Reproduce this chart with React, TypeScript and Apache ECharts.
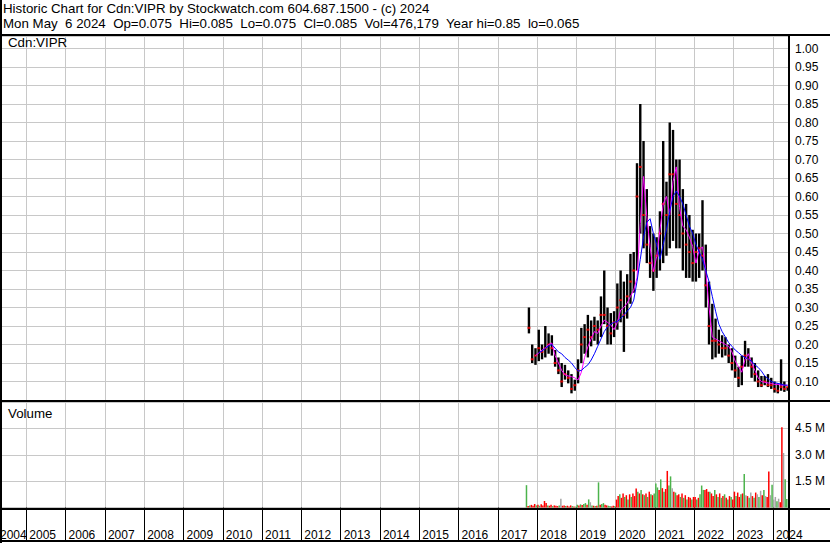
import React, { useEffect, useRef } from 'react';
import * as echarts from 'echarts';

// ---------- DATA ----------
const headerLine1 = 'Historic Chart for Cdn:VIPR by Stockwatch.com 604.687.1500 - (c) 2024';
const headerLine2 = 'Mon May  6 2024  Op=0.075  Hi=0.085  Lo=0.075  Cl=0.085  Vol=476,179  Year hi=0.85  lo=0.065';
const symbolLabel = 'Cdn:VIPR';
const volumeLabel = 'Volume';

const priceMonths = [
  '2017-10', '2017-11', '2017-12',
  '2018-01', '2018-02', '2018-03', '2018-04', '2018-05', '2018-06', '2018-07', '2018-08', '2018-09', '2018-10', '2018-11', '2018-12',
  '2019-01', '2019-02', '2019-03', '2019-04', '2019-05', '2019-06', '2019-07', '2019-08', '2019-09', '2019-10', '2019-11', '2019-12',
  '2020-01', '2020-02', '2020-03', '2020-04', '2020-05', '2020-06', '2020-07', '2020-08', '2020-09', '2020-10', '2020-11', '2020-12',
  '2021-01', '2021-02', '2021-03', '2021-04', '2021-05', '2021-06', '2021-07', '2021-08', '2021-09', '2021-10', '2021-11', '2021-12',
  '2022-01', '2022-02', '2022-03', '2022-04', '2022-05', '2022-06', '2022-07', '2022-08', '2022-09', '2022-10', '2022-11', '2022-12',
  '2023-01', '2023-02', '2023-03', '2023-04', '2023-05', '2023-06', '2023-07', '2023-08', '2023-09', '2023-10', '2023-11', '2023-12',
  '2024-01', '2024-02', '2024-03', '2024-04', '2024-05',
];
const priceHigh = [
  0.30, 0.20, 0.19,
  0.24, 0.20, 0.25, 0.23, 0.225, 0.185, 0.165, 0.15, 0.145, 0.13, 0.12, 0.105,
  0.16, 0.245, 0.255, 0.28, 0.265, 0.275, 0.265, 0.33, 0.40, 0.30, 0.285, 0.29,
  0.365, 0.40, 0.37, 0.39, 0.445, 0.45, 0.69, 0.85, 0.75, 0.62, 0.52, 0.50,
  0.49, 0.56, 0.75, 0.64, 0.80, 0.78, 0.70, 0.70, 0.62, 0.58, 0.55, 0.51,
  0.50, 0.50, 0.59, 0.47, 0.37, 0.31, 0.27, 0.24, 0.225, 0.22, 0.20, 0.19,
  0.17, 0.14, 0.17, 0.21, 0.19, 0.165, 0.15, 0.13, 0.115, 0.115, 0.12, 0.11,
  0.10, 0.095, 0.16, 0.10, 0.085,
];
const priceLow = [
  0.23, 0.15, 0.145,
  0.155, 0.16, 0.165, 0.175, 0.17, 0.14, 0.12, 0.085, 0.105, 0.095, 0.068, 0.075,
  0.095, 0.15, 0.175, 0.165, 0.195, 0.21, 0.20, 0.22, 0.255, 0.20, 0.20, 0.22,
  0.24, 0.26, 0.18, 0.27, 0.31, 0.34, 0.40, 0.50, 0.46, 0.42, 0.38, 0.345,
  0.38, 0.40, 0.42, 0.44, 0.46, 0.48, 0.46, 0.46, 0.40, 0.38, 0.38, 0.37,
  0.37, 0.38, 0.40, 0.30, 0.20, 0.16, 0.165, 0.175, 0.165, 0.17, 0.15, 0.13,
  0.11, 0.085, 0.09, 0.14, 0.14, 0.11, 0.10, 0.085, 0.085, 0.09, 0.085, 0.08,
  0.07, 0.068, 0.075, 0.072, 0.075,
];
const priceClose = [
  0.245, 0.16, 0.17,
  0.19, 0.18, 0.19, 0.20, 0.19, 0.15, 0.13, 0.10, 0.12, 0.11, 0.08, 0.09,
  0.13, 0.20, 0.22, 0.24, 0.22, 0.25, 0.24, 0.28, 0.28, 0.25, 0.23, 0.26,
  0.30, 0.32, 0.28, 0.33, 0.37, 0.40, 0.60, 0.68, 0.55, 0.47, 0.42, 0.40,
  0.44, 0.50, 0.58, 0.55, 0.66, 0.66, 0.58, 0.55, 0.50, 0.47, 0.45, 0.42,
  0.45, 0.46, 0.44, 0.36, 0.25, 0.21, 0.21, 0.20, 0.19, 0.19, 0.17, 0.15,
  0.13, 0.11, 0.14, 0.17, 0.16, 0.14, 0.12, 0.10, 0.09, 0.10, 0.09, 0.09,
  0.08, 0.075, 0.085, 0.08, 0.085,
];
// short moving average (magenta)
const maShort = [
  null, null, 0.17,
  0.177, 0.185, 0.19, 0.20, 0.204, 0.17, 0.15, 0.13, 0.118, 0.115, 0.113, 0.11,
  0.104, 0.125, 0.165, 0.194, 0.215, 0.235, 0.23, 0.25, 0.266, 0.26, 0.253, 0.24,
  0.26, 0.293, 0.30, 0.312, 0.33, 0.347, 0.38, 0.527, 0.654, 0.545, 0.464, 0.397,
  0.437, 0.509, 0.58, 0.60, 0.55, 0.64, 0.68, 0.57, 0.52, 0.51, 0.49, 0.465,
  0.42, 0.455, 0.464, 0.40, 0.30, 0.22, 0.215, 0.21, 0.205, 0.20, 0.195, 0.18,
  0.155, 0.14, 0.125, 0.16, 0.175, 0.15, 0.13, 0.11, 0.10, 0.098, 0.096, 0.095,
  0.092, 0.092, 0.09, 0.09, 0.09,
];
// long moving average (blue)
const maLong = [
  null, null, null,
  0.178, 0.182, 0.19, 0.196, 0.20, 0.19, 0.18, 0.175, 0.165, 0.158, 0.15, 0.138,
  0.128, 0.13, 0.138, 0.145, 0.158, 0.175, 0.195, 0.215, 0.235, 0.248, 0.255, 0.26,
  0.262, 0.27, 0.28, 0.29, 0.30, 0.32, 0.37, 0.43, 0.49, 0.53, 0.54, 0.50,
  0.47, 0.43, 0.47, 0.51, 0.56, 0.60, 0.615, 0.60, 0.58, 0.55, 0.52, 0.50,
  0.47, 0.45, 0.43, 0.40, 0.37, 0.33, 0.29, 0.255, 0.235, 0.22, 0.205, 0.195,
  0.185, 0.178, 0.17, 0.165, 0.16, 0.155, 0.145, 0.138, 0.128, 0.115, 0.108, 0.10,
  0.097, 0.095, 0.093, 0.09, 0.09,
];

const volDates = [
  '2017-09-16', '2017-10-01', '2017-10-16', '2017-11-01', '2017-11-16', '2017-12-01', '2017-12-16',
  '2018-01-01', '2018-01-16', '2018-02-01', '2018-02-16', '2018-03-01', '2018-03-16', '2018-04-01', '2018-04-16',
  '2018-05-01', '2018-05-16', '2018-06-01', '2018-06-16', '2018-07-01', '2018-07-16', '2018-08-01', '2018-08-16',
  '2018-09-01', '2018-09-16', '2018-10-01', '2018-10-16', '2018-11-01', '2018-11-16', '2018-12-01', '2018-12-16',
  '2019-01-01', '2019-01-16', '2019-02-01', '2019-02-16', '2019-03-01', '2019-03-16', '2019-04-01', '2019-04-16',
  '2019-05-01', '2019-05-16', '2019-06-01', '2019-06-16', '2019-07-01', '2019-07-16', '2019-08-01', '2019-08-16',
  '2019-09-01', '2019-09-16', '2019-10-01', '2019-10-16', '2019-11-01', '2019-11-16', '2019-12-01', '2019-12-16',
  '2020-01-01', '2020-01-16', '2020-02-01', '2020-02-16', '2020-03-01', '2020-03-16', '2020-04-01', '2020-04-16',
  '2020-05-01', '2020-05-16', '2020-06-01', '2020-06-16', '2020-07-01', '2020-07-16', '2020-08-01', '2020-08-16',
  '2020-09-01', '2020-09-16', '2020-10-01', '2020-10-16', '2020-11-01', '2020-11-16', '2020-12-01', '2020-12-16',
  '2021-01-01', '2021-01-16', '2021-02-01', '2021-02-16', '2021-03-01', '2021-03-16', '2021-04-01', '2021-04-16',
  '2021-05-01', '2021-05-16', '2021-06-01', '2021-06-16', '2021-07-01', '2021-07-16', '2021-08-01', '2021-08-16',
  '2021-09-01', '2021-09-16', '2021-10-01', '2021-10-16', '2021-11-01', '2021-11-16', '2021-12-01', '2021-12-16',
  '2022-01-01', '2022-01-16', '2022-02-01', '2022-02-16', '2022-03-01', '2022-03-16', '2022-04-01', '2022-04-16',
  '2022-05-01', '2022-05-16', '2022-06-01', '2022-06-16', '2022-07-01', '2022-07-16', '2022-08-01', '2022-08-16',
  '2022-09-01', '2022-09-16', '2022-10-01', '2022-10-16', '2022-11-01', '2022-11-16', '2022-12-01', '2022-12-16',
  '2023-01-01', '2023-01-16', '2023-02-01', '2023-02-16', '2023-03-01', '2023-03-16', '2023-04-01', '2023-04-16',
  '2023-05-01', '2023-05-16', '2023-06-01', '2023-06-16', '2023-07-01', '2023-07-16', '2023-08-01', '2023-08-16',
  '2023-09-01', '2023-09-16', '2023-10-01', '2023-10-16', '2023-11-01', '2023-11-16', '2023-12-01', '2023-12-16',
  '2024-01-01', '2024-01-16', '2024-02-01', '2024-02-16', '2024-03-01', '2024-03-16', '2024-04-01', '2024-04-16',
  '2024-05-01',
];
// millions of shares
const volValues = [
  1.27, 0.08, 0.12, 0.15, 0.10, 0.20, 0.12,
  0.15, 0.10, 0.18, 0.12, 0.37, 0.25, 0.12, 0.10,
  0.15, 0.08, 0.12, 0.10, 0.08, 0.12, 0.50, 0.10,
  0.12, 0.08, 0.10, 0.06, 0.12, 0.08, 0.06, 0.05,
  0.15, 0.12, 0.18, 0.14, 0.20, 0.25, 0.15, 0.46,
  0.30, 0.12, 0.10, 0.08, 0.10, 1.43, 0.15, 0.20,
  0.25, 0.15, 0.12, 0.10, 0.08, 0.06, 0.10, 0.08,
  0.45, 0.66, 0.75, 0.55, 0.80, 0.60, 0.70, 0.45,
  0.75, 0.60, 0.80, 0.65, 1.08, 0.90, 0.80, 1.00,
  0.75, 0.70, 0.80, 0.60, 0.90, 0.75, 0.70, 0.80,
  1.36, 1.14, 1.00, 1.60, 1.10, 0.90, 1.05, 2.08,
  1.25, 1.77, 1.10, 0.90, 0.85, 0.70, 0.75, 0.60,
  0.80, 0.55, 0.70, 0.45, 0.60, 0.55, 0.45, 0.60,
  0.60, 0.45, 0.55, 0.75, 1.25, 1.00, 1.00, 1.05,
  0.90, 0.90, 0.80, 0.65, 1.00, 0.75, 0.60, 0.80,
  0.55, 0.65, 0.75, 0.55, 0.45, 0.65, 0.60, 0.45,
  0.90, 0.65, 0.85, 0.60, 0.75, 0.80, 1.90, 0.70,
  0.65, 0.55, 0.85, 0.65, 0.55, 0.85, 0.75, 0.60,
  0.95, 0.70, 1.00, 0.65, 0.60, 2.05, 0.70, 1.30,
  0.45, 0.60, 0.35, 0.50, 0.30, 4.57, 3.10, 1.60,
  0.48,
];
// r = down day (red), g = up day (green), n = unchanged (grey)
const volColors = [
  'g', 'r', 'g', 'r', 'r', 'r', 'g',
  'r', 'g', 'r', 'r', 'r', 'r', 'g', 'r',
  'r', 'g', 'r', 'r', 'r', 'g', 'n', 'r',
  'r', 'g', 'r', 'r', 'r', 'g', 'r', 'g',
  'g', 'r', 'g', 'r', 'g', 'g', 'r', 'g',
  'n', 'g', 'r', 'g', 'r', 'g', 'r', 'g',
  'g', 'r', 'r', 'g', 'g', 'r', 'r', 'g',
  'r', 'r', 'g', 'r', 'r', 'g', 'r', 'g',
  'r', 'g', 'r', 'r', 'r', 'g', 'r', 'g',
  'r', 'g', 'r', 'g', 'r', 'g', 'r', 'g',
  'g', 'g', 'r', 'g', 'r', 'g', 'r', 'r',
  'g', 'g', 'n', 'r', 'g', 'r', 'r', 'g',
  'r', 'g', 'r', 'g', 'r', 'r', 'g', 'r',
  'r', 'g', 'r', 'g', 'g', 'g', 'r', 'r',
  'r', 'g', 'r', 'r', 'g', 'r', 'g', 'r',
  'g', 'r', 'g', 'r', 'g', 'r', 'g', 'r',
  'r', 'g', 'r', 'r', 'g', 'r', 'g', 'n',
  'r', 'g', 'n', 'r', 'g', 'r', 'n', 'g',
  'n', 'r', 'g', 'n', 'r', 'r', 'n', 'g',
  'n', 'n', 'g', 'n', 'r', 'r', 'n', 'g',
  'g',
];

// ---------- HELPERS ----------
const FONT = '"Liberation Sans", Arial, Helvetica, sans-serif';
const GRID_COLOR = '#c8c8c8';
const VOL_COLOR: Record<string, string> = { r: '#ff0000', g: '#4cb34c', n: '#a6a6a6' };
// the chart canvas starts 13px left of the page so that Jan 1 2004 sits just off-screen
const SHIFT = 13;
const CHART_W = 830 + SHIFT;

const monthX = (s: string) => {
  const [y, m] = s.split('-').map(Number);
  return y + (m - 0.5) / 12;
};
const dayX = (s: string) => {
  const [y, m, d] = s.split('-').map(Number);
  return y + (m - 1 + (d < 16 ? 0.25 : 0.75)) / 12;
};

export default function App() {
  const ref = useRef<HTMLDivElement>(null);

  useEffect(() => {
    if (!ref.current) return;
    const chart = echarts.init(ref.current, undefined, { renderer: 'svg' });

    const barData = priceMonths.map((m, i) => [monthX(m), priceLow[i], priceHigh[i]]);
    const closeData = priceMonths.map((m, i) => [monthX(m), priceClose[i]]);
    const shortData = priceMonths
      .map((m, i) => [monthX(m), maShort[i]])
      .filter((p) => p[1] != null);
    const longData = priceMonths
      .map((m, i) => [monthX(m), maLong[i]])
      .filter((p) => p[1] != null);
    const volData = volDates.map((d, i) => [dayX(d), volValues[i] * 1e6]);

    const xMax = 2024.41;
    const labelStyle = { color: '#000', fontSize: 12, fontFamily: FONT };
    const px = (x: number) => x + SHIFT; // page x -> chart x

    const blackLine = (x1: number, y1: number, x2: number, y2: number, w: number) => ({
      type: 'line',
      z: 100,
      silent: true,
      shape: { x1: px(x1), y1, x2: px(x2), y2 },
      style: { stroke: '#000', lineWidth: w },
    });
    const label = (text: string, x: number, y: number) => ({
      type: 'text', x: px(x), y, z: 100,
      style: { text, fill: '#000', font: `13.3px ${FONT}`, verticalAlign: 'middle', align: 'left' },
    });

    chart.setOption({
      animation: false,
      backgroundColor: '#ffffff',
      grid: [
        { left: 0, right: CHART_W - px(789), top: 36, height: 364 },
        { left: 0, right: CHART_W - px(789), top: 402, height: 105.5 },
      ],
      xAxis: [
        {
          type: 'value', gridIndex: 0, min: 2004, max: xMax, interval: 1,
          axisLine: { show: false }, axisTick: { show: false }, axisLabel: { show: false },
          splitLine: { show: true, lineStyle: { color: GRID_COLOR, width: 1 } },
        },
        {
          type: 'value', gridIndex: 1, min: 2004, max: xMax, interval: 1,
          axisLine: { show: false },
          axisTick: { show: true, length: 33, lineStyle: { color: '#000', width: 1 } },
          axisLabel: {
            ...labelStyle,
            showMinLabel: true,
            showMaxLabel: false,
            align: 'left',
            margin: 21,
            padding: [0, 0, 0, 3],
            formatter: (v: number) => {
              const y = Math.round(v);
              return y === 2004 ? `{first|${y}}` : String(y);
            },
            rich: {
              first: { ...labelStyle, padding: [0, 0, 0, 10] },
            },
          },
          splitLine: { show: true, lineStyle: { color: GRID_COLOR, width: 1 } },
        },
      ],
      yAxis: [
        {
          type: 'value', gridIndex: 0, position: 'right', min: 0.05, max: 1.0338, interval: 0.05,
          axisLine: { show: false }, axisTick: { show: false },
          axisLabel: {
            ...labelStyle, margin: 6, showMinLabel: false, showMaxLabel: false,
            formatter: (v: number) => v.toFixed(2),
          },
          splitLine: { show: true, lineStyle: { color: GRID_COLOR, width: 1 } },
        },
        {
          type: 'value', gridIndex: 1, position: 'right', min: 0, max: 6e6, interval: 1.5e6,
          axisLine: { show: false }, axisTick: { show: false },
          axisLabel: {
            ...labelStyle, margin: 6, showMinLabel: false, showMaxLabel: false,
            formatter: (v: number) => (v / 1e6).toFixed(1) + ' M',
          },
          splitLine: { show: true, lineStyle: { color: GRID_COLOR, width: 1 } },
        },
      ],
      series: [
        {
          type: 'custom', name: 'range', xAxisIndex: 0, yAxisIndex: 0,
          encode: { x: 0, y: [1, 2] },
          data: barData,
          renderItem: (_p: any, api: any) => {
            const x = api.value(0);
            const a = api.coord([x, api.value(2)]);
            const b = api.coord([x, api.value(1)]);
            return {
              type: 'rect',
              shape: { x: a[0] - 1.2, y: a[1], width: 2.4, height: Math.max(1, b[1] - a[1]) },
              style: { fill: '#000' },
            };
          },
        },
        {
          type: 'scatter', name: 'close', xAxisIndex: 0, yAxisIndex: 0,
          data: closeData, symbol: 'rect', symbolSize: [3, 2],
          itemStyle: { color: '#ff0000' },
        },
        {
          type: 'line', name: 'short MA', xAxisIndex: 0, yAxisIndex: 0,
          data: shortData, showSymbol: false, symbol: 'none',
          lineStyle: { color: '#ff00ff', width: 1 }, itemStyle: { color: '#ff00ff' },
        },
        {
          type: 'line', name: 'long MA', xAxisIndex: 0, yAxisIndex: 0,
          data: longData, showSymbol: false, symbol: 'none',
          lineStyle: { color: '#0000ff', width: 1 }, itemStyle: { color: '#0000ff' },
        },
        {
          type: 'custom', name: 'volume', xAxisIndex: 1, yAxisIndex: 1,
          encode: { x: 0, y: 1 },
          data: volData,
          renderItem: (p: any, api: any) => {
            const x = api.value(0);
            const top = api.coord([x, api.value(1)]);
            const base = api.coord([x, 0]);
            return {
              type: 'rect',
              shape: { x: top[0] - 0.75, y: top[1], width: 1.5, height: base[1] - top[1] },
              style: { fill: VOL_COLOR[volColors[p.dataIndex]] },
            };
          },
        },
      ],
      graphic: [
        label(headerLine1, 3, 8),
        label(headerLine2, 3, 23),
        label(symbolLabel, 8, 42),
        label(volumeLabel, 8, 413),
        blackLine(0, 35, 830, 35, 2),
        blackLine(0, 401, 830, 401, 2),
        blackLine(0, 509, 830, 509, 2),
        blackLine(0, 541, 830, 541, 2),
        blackLine(1, 0, 1, 543, 2),
        blackLine(789, 35, 789, 541, 2),
      ],
    });

    return () => chart.dispose();
  }, []);

  return (
    <div
      ref={ref}
      style={{ position: 'fixed', left: -SHIFT, top: 0, width: CHART_W, height: 543, background: '#fff' }}
    />
  );
}
